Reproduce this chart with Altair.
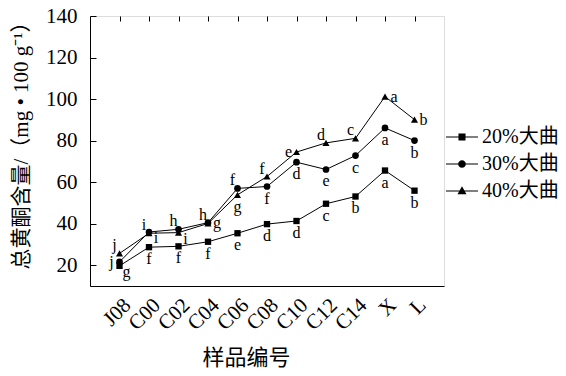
import altair as alt
import pandas as pd

categories = ["J08", "C00", "C02", "C04", "C06", "C08", "C10", "C12", "C14", "X", "L"]
series_names = ["20%大曲", "30%大曲", "40%大曲"]
values_20 = [19.7, 28.7, 29.1, 31.3, 35.4, 39.8, 41.3, 49.6, 53.1, 65.6, 55.9]
values_30 = [21.6, 36.0, 37.3, 40.5, 57.0, 57.9, 69.6, 66.1, 72.8, 86.1, 80.0]
values_40 = [25.7, 35.4, 35.7, 40.1, 53.9, 62.7, 74.5, 78.9, 81.1, 101.2, 90.1]
letters_20 = ["g", "f", "f", "f", "e", "d", "d", "c", "b", "a", "b"]
letters_30 = ["j", "i", "h", "g", "f", "f", "d", "e", "c", "a", "b"]
letters_40 = ["j", "i", "i", "h", "g", "f", "e", "d", "c", "a", "b"]
# where each significance letter sits relative to its point
place_20 = ["br", "b", "b", "b", "b", "b", "b", "b", "b", "b", "b"]
place_30 = ["l", "br", "ul", "r", "ul", "b", "b", "b", "b", "b", "b"]
place_40 = ["ul", "ul", "br", "ul", "b", "ul", "l", "ul", "ul", "r", "r"]
y_ticks = [20, 40, 60, 80, 100, 120, 140]

rows = []
for name, vals, lets, places in zip(series_names,
                                    [values_20, values_30, values_40],
                                    [letters_20, letters_30, letters_40],
                                    [place_20, place_30, place_40]):
    for c, v, l, p in zip(categories, vals, lets, places):
        rows.append({"cat": c, "series": name, "legend_series": name,
                     "value": v, "letter": l, "place": p})
df = pd.DataFrame(rows)

SERIF = "Liberation Serif, Noto Sans CJK SC"

x_enc = alt.X("cat:N", sort=categories,
              scale=alt.Scale(type="point", padding=1),
              axis=alt.Axis(title="样品编号", labelAngle=315, labelFontSize=21,
                            labelFont=SERIF, labelColor="black", ticks=False,
                            labelPadding=8, domainColor="black", domainWidth=1,
                            grid=True, gridDash=[5, 2000], gridColor="black",
                            gridWidth=1, gridOpacity=1,
                            titleFont=SERIF, titleFontSize=22, titleFontWeight="normal",
                            titleColor="black", titleX=156, titleY=71,
                            titleBaseline="middle", titleAlign="center"))
y_enc = alt.Y("value:Q",
              scale=alt.Scale(domain=[10, 140], nice=False, zero=False),
              axis=alt.Axis(values=y_ticks, title="总黄酮含量/（mg • 100 g⁻¹）",
                            ticks=False, labelFontSize=21, labelFont=SERIF,
                            labelColor="black", labelPadding=13,
                            domainColor="black", domainWidth=1,
                            grid=True, gridDash=[6, 2000], gridColor="black",
                            gridWidth=1, gridOpacity=1,
                            titleFont=SERIF, titleFontSize=21, titleFontWeight="normal",
                            titleColor="black", titleX=-69, titleY=124, titleAngle=270,
                            titleBaseline="middle", titleAlign="center"))

base = alt.Chart(df)

lines = base.mark_line(color="black", strokeWidth=1).encode(
    x=x_enc, y=y_enc, detail="series:N")

points = base.mark_point(filled=True, color="black", opacity=1).encode(
    x=x_enc, y=y_enc,
    shape=alt.Shape("series:N", scale=alt.Scale(domain=series_names,
                                                range=["square", "circle", "triangle-up"]),
                    legend=None),
    size=alt.Size("series:N", scale=alt.Scale(domain=series_names, range=[40, 50, 64]),
                  legend=None))

# legend glyphs: a thin filled bar (the line) plus the marker
BAR = "M-1,-0.032H1V0.032H-1Z"
legend_paths = [
    BAR + "M-0.22,-0.22H0.22V0.22H-0.22Z",
    BAR + "M0.24,0A0.24,0.24,0,1,1,-0.24,0A0.24,0.24,0,1,1,0.24,0Z",
    BAR + "M0,-0.3L0.28,0.2L-0.28,0.2Z",
]
legend_layer = base.mark_point(filled=True, fill="black", opacity=0).encode(
    x=x_enc, y=y_enc,
    shape=alt.Shape("legend_series:N",
                    scale=alt.Scale(domain=series_names, range=legend_paths),
                    legend=alt.Legend(title=None, orient="none", legendX=355, legendY=104,
                                      symbolSize=1024, symbolFillColor="black",
                                      symbolOpacity=1, labelFont=SERIF, labelFontSize=20,
                                      labelColor="black", labelOffset=3, rowPadding=-3)))

offsets = {
    "b": (0, 12),
    "ul": (-5, -8),
    "br": (7, 6),
    "r": (9, 0),
    "l": (-8, 0),
}
text_layers = []
for key, (dx, dy) in offsets.items():
    text_layers.append(
        base.transform_filter(alt.datum.place == key)
        .mark_text(dx=dx, dy=dy, fontSize=16, font=SERIF, color="black", baseline="middle")
        .encode(x=x_enc, y=y_enc, text="letter:N"))

chart = alt.layer(lines, points, legend_layer, *text_layers).resolve_scale(
    shape="independent", size="independent"
).resolve_legend(shape="independent").properties(
    width=354, height=270,
    padding={"left": 82, "top": 8, "right": 114, "bottom": 82},
    autosize=alt.AutoSizeParams(type="none"),
).configure_view(stroke=None).configure(background="white")

chart.save("out.html", embed_options={"renderer": "svg", "actions": False})
